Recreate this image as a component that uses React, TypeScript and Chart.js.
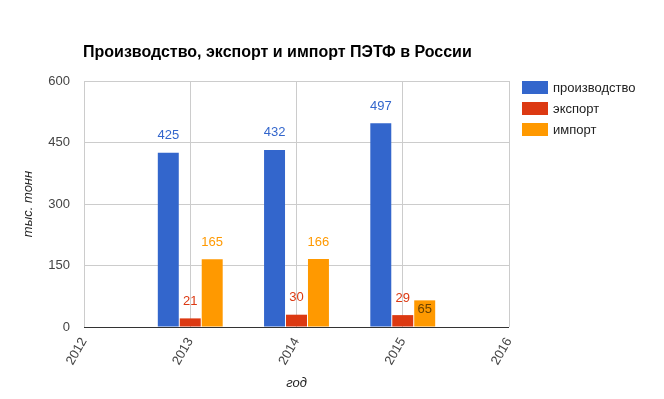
import React, { useEffect, useRef } from "react";
import { Chart, registerables } from "chart.js";

Chart.register(...registerables);

const TITLE = "Производство, экспорт и импорт ПЭТФ в России";
const X_TITLE = "год";
const Y_TITLE = "тыс. тонн";
const years = [2013, 2014, 2015];
const seriesNames = ["производство", "экспорт", "импорт"];
const production = [425, 432, 497];
const exports = [21, 30, 29];
const imports = [165, 166, 65];
const xMin = 2012;
const xMax = 2016;
const yMin = 0;
const yMax = 600;
const yStep = 150;

const COLORS = ["#3366cc", "#dc3912", "#ff9900"];
const FONT = '"Liberation Sans", Arial, sans-serif';

const overlayPlugin = {
  id: "overlay",
  afterDatasetsDraw(chart: any) {
    const ctx = chart.ctx;
    ctx.save();
    ctx.font = `13px ${FONT}`;
    ctx.textAlign = "center";
    ctx.textBaseline = "middle";
    const prevLabelY: Record<number, number> = {};
    chart.data.datasets.forEach((ds: any, di: number) => {
      const meta = chart.getDatasetMeta(di);
      meta.data.forEach((el: any, i: number) => {
        const v = ds.data[i].y;
        let ly = el.y - 17;
        let color = COLORS[di];
        if (prevLabelY[i] !== undefined && Math.abs(prevLabelY[i] - ly) < 16) {
          ly = el.y + 9;
          color = "#6b4200";
        }
        ctx.fillStyle = color;
        ctx.fillText(String(v), el.x, ly);
        prevLabelY[i] = ly;
      });
    });
    ctx.restore();
  },
  afterDraw(chart: any) {
    const ctx = chart.ctx;
    const area = chart.chartArea;
    ctx.save();
    // title
    ctx.fillStyle = "#000";
    ctx.font = `bold 16px ${FONT}`;
    ctx.textAlign = "left";
    ctx.textBaseline = "middle";
    ctx.fillText(TITLE, 83, 53);
    // legend
    ctx.font = `13px ${FONT}`;
    seriesNames.forEach((name, i) => {
      const y = 81 + i * 21;
      ctx.fillStyle = COLORS[i];
      ctx.fillRect(522, y, 26, 13);
      ctx.fillStyle = "#222";
      ctx.fillText(name, 553, y + 7);
    });
    // axis titles
    ctx.font = `italic 13px ${FONT}`;
    ctx.fillStyle = "#222";
    ctx.textAlign = "center";
    ctx.fillText(X_TITLE, (area.left + area.right) / 2, 383);
    ctx.translate(28, (area.top + area.bottom) / 2);
    ctx.rotate(-Math.PI / 2);
    ctx.fillText(Y_TITLE, 0, 0);
    ctx.restore();
  },
};

export default function App() {
  const ref = useRef<HTMLCanvasElement>(null);
  useEffect(() => {
    if (!ref.current) return;
    const mk = (arr: number[]) => years.map((x, i) => ({ x, y: arr[i] }));
    const values = [production, exports, imports];
    const chart = new Chart(ref.current, {
      type: "bar",
      data: {
        datasets: values.map((arr, i) => ({
          label: seriesNames[i],
          data: mk(arr),
          backgroundColor: COLORS[i],
          borderWidth: 0,
          categoryPercentage: 0.62,
          barPercentage: 0.955,
        })),
      },
      options: {
        animation: false,
        responsive: false,
        devicePixelRatio: 1,
        layout: { padding: { left: 0, top: 81, right: 155, bottom: 0 } },
        plugins: { legend: { display: false }, title: { display: false }, tooltip: { enabled: false } },
        scales: {
          x: {
            type: "linear",
            min: xMin,
            max: xMax,
            offset: false,
            grid: { offset: false, color: "#cccccc", drawTicks: false },
            border: { display: false },
            ticks: {
              stepSize: 1,
              autoSkip: false,
              minRotation: 60,
              maxRotation: 60,
              padding: 8,
              color: "#444",
              font: { family: FONT, size: 13 },
              callback: (v: any) => String(v),
            },
            afterFit: (s: any) => {
              s.height = 72;
            },
          },
          y: {
            min: yMin,
            max: yMax,
            grid: {
              drawTicks: false,
              color: (c: any) => (c.tick && c.tick.value === 0 ? "#333333" : "#cccccc"),
            },
            border: { display: false },
            ticks: {
              stepSize: yStep,
              padding: 14,
              color: "#444",
              font: { family: FONT, size: 13 },
            },
            afterFit: (s: any) => {
              s.width = 84;
            },
          },
        },
      },
      plugins: [overlayPlugin],
    } as any);
    return () => chart.destroy();
  }, []);
  return (
    <div style={{ position: "absolute", left: 0, top: 0, width: 664, height: 399, background: "#fff" }}>
      <canvas ref={ref} width={664} height={399} />
    </div>
  );
}
